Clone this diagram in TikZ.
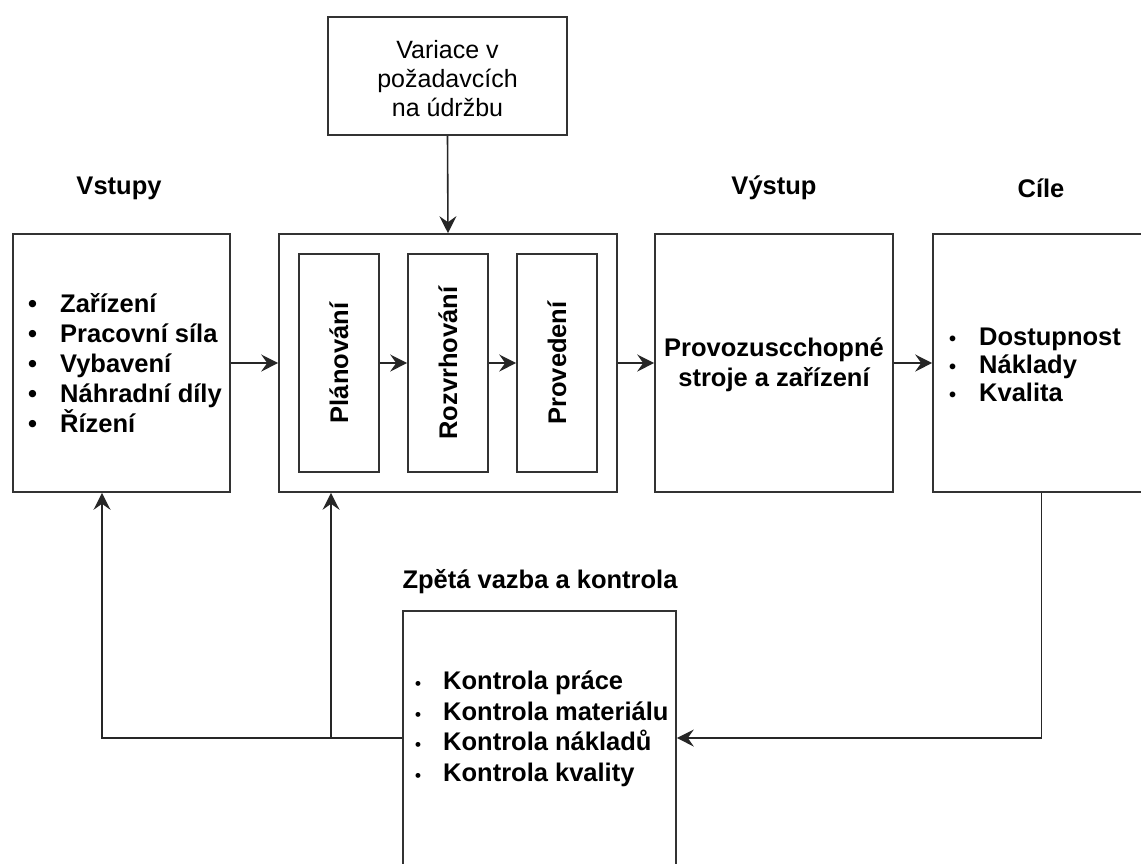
\documentclass[tikz,border=0pt]{standalone}
\usepackage{fontspec}
\setmainfont{Liberation Sans}
\usetikzlibrary{arrows.meta}
\tikzset{
  box/.style={draw=black!80, line width=1.6pt, rectangle, inner sep=0pt, fill=white},
  txt/.style={font=\fontsize{25.5}{30}\selectfont\bfseries, align=center, inner sep=0pt, text=black},
  plain/.style={font=\fontsize{25}{29}\selectfont, align=center, inner sep=0pt, text=black},
  conn/.style={draw=black!85, line width=1.6pt, -{Stealth[length=17pt,width=17pt,inset=6pt]}},
  wire/.style={draw=black!85, line width=1.6pt},
}
\newcommand{\bigbul}{\makebox[32pt][l]{\textbullet}}
\newcommand{\midbul}{\makebox[30pt][l]{\fontsize{20}{20}\selectfont\textbullet}}
\newcommand{\smallbul}{\makebox[28pt][l]{\fontsize{17}{17}\selectfont\textbullet}}
\begin{document}
\begin{tikzpicture}[x=1pt,y=-1pt]
\useasboundingbox (0,0) rectangle (1141,863);
\clip (0,0) rectangle (1141,863);
\fill[white] (0,0) rectangle (1141,863);

% headings
\node[txt] (hin) at (119,188) {Vstupy};
\node[txt] (hout) at (774,188) {Výstup};
\node[txt] (hgoal) at (1041,188) {Cíle};
\node[txt] (hfb) at (540,582) {Zpětá vazba a kontrola};

% top box
\node[box, minimum width=239pt, minimum height=118pt] (top) at (447.5,76) {};
\node[plain] (toptxt) at (447.5,79) {Variace v\\požadavcích\\na údržbu};

% inputs
\node[box, minimum width=217pt, minimum height=258pt] (inputs) at (121.5,363) {};
\node[txt, align=left, anchor=west] (inlist) at (28,363)
  {\bigbul Zařízení\\\bigbul Pracovní síla\\\bigbul Vybavení\\\bigbul Náhradní díly\\\bigbul Řízení};

% main process box
\node[box, minimum width=338pt, minimum height=258pt] (main) at (448,363) {};
\node[box, minimum width=80pt, minimum height=218pt] (plan) at (339,363) {};
\node[box, minimum width=80pt, minimum height=218pt] (rozv) at (448,363) {};
\node[box, minimum width=80pt, minimum height=218pt] (prov) at (557,363) {};
\node[txt, rotate=90] (plantxt) at (plan) {Plánování};
\node[txt, rotate=90] (rozvtxt) at (rozv) {Rozvrhování};
\node[txt, rotate=90] (provtxt) at (prov) {Provedení};

% output
\node[box, minimum width=238pt, minimum height=258pt] (output) at (774,363) {};
\node[txt] (outtxt) at (774,365) {Provozuscchopné\\stroje a zařízení};

% goals
\node[box, minimum width=217pt, minimum height=258pt] (goals) at (1041.5,363) {};
\node[txt, align=left, anchor=west, font=\fontsize{25.5}{28}\selectfont\bfseries] (goallist) at (949,365)
  {\midbul Dostupnost\\\midbul Náklady\\\midbul Kvalita};

% feedback
\node[box, minimum width=273pt, minimum height=269pt] (fb) at (539.5,745.5) {};
\node[txt, align=left, anchor=west, font=\fontsize{25.5}{30.5}\selectfont\bfseries] (fblist) at (415,729)
  {\smallbul Kontrola práce\\\smallbul Kontrola materiálu\\\smallbul Kontrola nákladů\\\smallbul Kontrola kvality};

% connectors
\draw[conn] (top.south) -- (main.north);
\draw[conn] (inputs.east) -- (main.west);
\draw[conn] (plan.east) -- (rozv.west);
\draw[conn] (rozv.east) -- (prov.west);
\draw[conn] (main.east) -- (output.west);
\draw[conn] (output.east) -- (goals.west);

\coordinate (fbY) at (0,738);
\coordinate (fbR) at (fb.east |- fbY);
\coordinate (fbL) at (fb.west |- fbY);
\coordinate (br) at (331,738);
\draw[conn] (goals.south) |- (fbR);
\draw[conn] (fbL) -| ([xshift=-19.5pt]inputs.south);
\draw[conn] (br) -- (br |- main.south);
\end{tikzpicture}
\end{document}
